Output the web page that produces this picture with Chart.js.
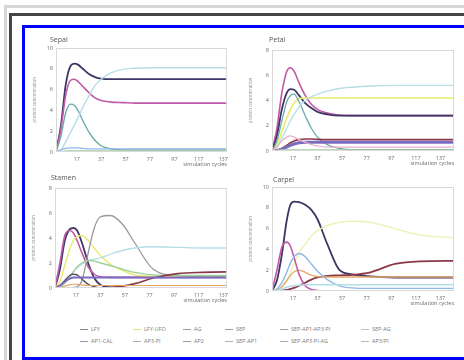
<!DOCTYPE html>
<html>
<head>
<meta charset="utf-8">
<script src="https://cdn.jsdelivr.net/npm/chart.js@4.4.1/dist/chart.umd.min.js"></script>
<style>
    body { margin: 0; width: 464px; height: 360px; background: #fff; overflow: hidden; position: relative; font-family: "Open Sans", sans-serif; }
    .frame { position: absolute; box-sizing: border-box; }
    #f1 { left: 4px; top: 5px; width: 500px; height: 400px; border: 3px solid #d6d6d6; }
    #f2 { left: 9px; top: 13px; width: 500px; height: 400px; border: 3px solid #454545; }
    #f3 { left: 22px; top: 25px; width: 480px; height: 335px; border: 3px solid #0000ff; background: #fff; }
    .panel { position: absolute; }
    .ptitle { position: absolute; font-size: 7px; color: #555; }
    #legend { position: absolute; left: 0; top: 0; }
    .li { position: absolute; font-size: 5.5px; color: #7a7a7a; white-space: nowrap; line-height: 7px; }
    .li i { display: inline-block; width: 8px; height: 0; border-top: 1px solid #999; vertical-align: middle; margin-right: 3px; }
</style>
</head>
<body>
<div class="frame" id="f1"></div>
<div class="frame" id="f2"></div>
<div class="frame" id="f3"></div>

<canvas id="sepal_chart" class="panel" width="202" height="136" style="left:30px;top:38px"></canvas>
<canvas id="petal_chart" class="panel" width="212" height="133" style="left:246px;top:40px"></canvas>
<canvas id="stamen_chart" class="panel" width="203" height="132" style="left:29px;top:178px"></canvas>
<canvas id="carpel_chart" class="panel" width="212" height="136" style="left:246px;top:177px"></canvas>

<div class="ptitle" style="left:50px;top:35px">Sepal</div>
<div class="ptitle" style="left:269px;top:35px">Petal</div>
<div class="ptitle" style="left:51px;top:173px">Stamen</div>
<div class="ptitle" style="left:273px;top:175px">Carpel</div>

<div id="legend"></div>

<script>
// simulation cycles sampled
const cycles = [0, 4, 8, 12, 15, 18, 22, 27, 32, 37, 45, 55, 65, 80, 100, 120, 150];
const xTicks = [17, 37, 57, 77, 97, 117, 137];

// Sepal
const sepalDark    = [0, 2.5, 6.5, 8.3, 8.5, 8.4, 8.0, 7.5, 7.2, 7.05, 7.0, 7.0, 7.0, 7.0, 7.0, 7.0, 7.0];
const sepalMagenta = [0, 2.2, 5.5, 6.9, 7.0, 6.8, 6.3, 5.7, 5.2, 4.95, 4.8, 4.75, 4.7, 4.7, 4.7, 4.7, 4.7];
const sepalTeal    = [0, 1.5, 3.8, 4.6, 4.5, 4.0, 3.0, 1.9, 1.1, 0.6, 0.3, 0.2, 0.2, 0.2, 0.2, 0.2, 0.2];
const sepalCyan    = [0, 0.2, 1.0, 1.9, 2.6, 3.3, 4.3, 5.4, 6.4, 7.0, 7.6, 7.95, 8.05, 8.1, 8.1, 8.1, 8.1];
const sepalBlue    = [0, 0.2, 0.35, 0.4, 0.4, 0.4, 0.35, 0.3, 0.3, 0.3, 0.3, 0.3, 0.3, 0.3, 0.3, 0.3, 0.3];
const sepalGreen   = [0, 0.05, 0.1, 0.1, 0.1, 0.1, 0.1, 0.1, 0.1, 0.1, 0.1, 0.1, 0.1, 0.1, 0.1, 0.1, 0.1];

// Petal
const petalMagenta = [0, 1.8, 4.6, 6.3, 6.6, 6.3, 5.4, 4.4, 3.7, 3.3, 3.0, 2.85, 2.8, 2.8, 2.8, 2.8, 2.8];
const petalDark    = [0, 1.2, 3.3, 4.6, 4.9, 4.85, 4.4, 3.8, 3.4, 3.1, 2.9, 2.8, 2.8, 2.8, 2.8, 2.8, 2.8];
const petalYellow  = [0, 0.5, 1.5, 2.6, 3.3, 3.8, 4.15, 4.2, 4.2, 4.2, 4.2, 4.2, 4.2, 4.2, 4.2, 4.2, 4.2];
const petalCyan    = [0, 0.3, 1.0, 1.8, 2.4, 2.9, 3.5, 4.0, 4.3, 4.5, 4.75, 4.95, 5.05, 5.15, 5.2, 5.2, 5.2];
const petalTeal    = [0, 0.8, 2.4, 3.9, 4.4, 4.5, 3.9, 2.8, 1.8, 1.1, 0.5, 0.2, 0.1, 0.1, 0.1, 0.1, 0.1];
const petalRed     = [0, 0.05, 0.2, 0.45, 0.65, 0.8, 0.9, 0.95, 0.95, 0.92, 0.9, 0.9, 0.9, 0.9, 0.9, 0.9, 0.9];
const petalPurple  = [0, 0.05, 0.15, 0.3, 0.45, 0.55, 0.65, 0.7, 0.7, 0.7, 0.7, 0.7, 0.7, 0.7, 0.7, 0.7, 0.7];
const petalPink    = [0, 0.3, 0.8, 1.1, 1.2, 1.1, 0.9, 0.7, 0.5, 0.4, 0.3, 0.3, 0.3, 0.3, 0.3, 0.3, 0.3];
const petalGreen   = [0, 0.05, 0.1, 0.1, 0.1, 0.1, 0.1, 0.1, 0.1, 0.1, 0.1, 0.1, 0.1, 0.1, 0.1, 0.1, 0.1];

// Stamen
const stamenDark    = [0, 1.5, 3.8, 4.7, 4.8, 4.6, 3.6, 2.0, 0.8, 0.25, 0.05, 0, 0, 0, 0, 0, 0];
const stamenMagenta = [0, 2.0, 4.2, 4.6, 4.4, 3.8, 2.8, 1.7, 1.1, 0.9, 0.85, 0.85, 0.85, 0.85, 0.85, 0.85, 0.85];
const stamenYellow  = [0, 0.5, 1.8, 3.1, 3.8, 4.1, 4.2, 3.8, 3.2, 2.6, 1.9, 1.4, 1.05, 0.95, 0.9, 0.9, 0.9];
const stamenGray    = [0, 0, 0, 0, 0.05, 0.1, 0.6, 2.8, 4.8, 5.7, 5.8, 5.1, 3.6, 1.5, 1.0, 0.95, 0.95];
const stamenCyan    = [0, 0.1, 0.4, 0.9, 1.3, 1.6, 1.9, 2.2, 2.3, 2.4, 2.7, 3.0, 3.2, 3.3, 3.25, 3.2, 3.2];
const stamenGreen   = [0, 0.1, 0.4, 0.9, 1.3, 1.7, 2.0, 2.2, 2.15, 2.0, 1.8, 1.5, 1.25, 1.05, 1.0, 1.0, 1.0];
const stamenRed     = [0, 0, 0, 0, 0, 0, 0, 0, 0, 0, 0.05, 0.15, 0.35, 0.8, 1.15, 1.25, 1.3];
const stamenHump    = [0, 0.2, 0.6, 1.0, 1.1, 1.05, 0.7, 0.3, 0.1, 0, 0, 0, 0, 0, 0, 0, 0];
const stamenPurple  = [0, 0.2, 0.5, 0.75, 0.85, 0.85, 0.85, 0.85, 0.85, 0.85, 0.85, 0.85, 0.85, 0.85, 0.85, 0.85, 0.85];
const stamenOrange  = [0, 0.05, 0.15, 0.25, 0.3, 0.3, 0.25, 0.2, 0.2, 0.2, 0.2, 0.2, 0.2, 0.2, 0.2, 0.2, 0.2];

// Carpel
const carpelDark    = [0, 1.0, 3.5, 6.8, 8.3, 8.6, 8.55, 8.3, 7.8, 6.9, 4.5, 2.0, 1.6, 1.4, 1.3, 1.3, 1.3];
const carpelRed     = [0, 0, 0.05, 0.1, 0.2, 0.3, 0.5, 0.8, 1.1, 1.3, 1.45, 1.5, 1.55, 1.8, 2.6, 2.85, 2.9];
const carpelYellow  = [0, 0.1, 0.4, 1.0, 1.8, 2.6, 3.7, 4.5, 5.3, 5.8, 6.3, 6.6, 6.7, 6.6, 6.0, 5.4, 5.1];
const carpelMagenta = [0, 2.0, 4.2, 4.7, 4.3, 3.2, 1.6, 0.5, 0.15, 0.05, 0, 0, 0, 0, 0, 0, 0];
const carpelBlue    = [0, 0.2, 0.8, 1.8, 2.7, 3.3, 3.6, 3.3, 2.6, 1.9, 1.1, 0.5, 0.3, 0.25, 0.25, 0.25, 0.25];
const carpelOrange  = [0, 0.1, 0.4, 1.0, 1.5, 1.85, 2.0, 1.8, 1.5, 1.4, 1.35, 1.35, 1.35, 1.35, 1.35, 1.35, 1.35];
const carpelCyan    = [0, 0.05, 0.2, 0.35, 0.45, 0.5, 0.55, 0.6, 0.6, 0.6, 0.6, 0.6, 0.6, 0.6, 0.6, 0.6, 0.6];

const legendLabels = ['LFY', 'LFY-UFO', 'AG', 'SEP', 'SEP-AP1-AP3-PI', 'SEP-AG',
                      'AP1-CAL', 'AP3-PI', 'AP2', 'SEP-AP1', 'SEP-AP3-PI-AG', 'AP3/PI'];
const legendColors = ['#8a8a8a', '#e6ea7a', '#9a9a9a', '#9a9a9a', '#a0a0a0', '#c0c0c0',
                      '#9a9a9a', '#b0b0b0', '#9a9a9a', '#b0b0b0', '#b0b0b0', '#b8b8b8'];

const colors = {
    dark: '#3e3766', magenta: '#c05aa8', teal: '#6fa9ac', cyan: '#b4dde6', blue: '#8fb8e6',
    green: '#9fcf9a', yellow: '#e8ea6a', red: '#8a3848', purple: '#7c6cc0', pink: '#eab0cc',
    gray: '#9a9a9a', orange: '#e3a868', hump: '#555060'
};

// draws the light box round the plot area
const boxPlugin = {
    id: 'box',
    afterDraw(chart) {
        const a = chart.chartArea, ctx = chart.ctx;
        ctx.save();
        ctx.strokeStyle = '#d9d9d9';
        ctx.lineWidth = 1;
        ctx.strokeRect(a.left + 0.5, a.top + 0.5, a.right - a.left - 1, a.bottom - a.top - 1);
        ctx.restore();
    }
};

function series(values, color, width) {
    return {
        data: cycles.map((c, i) => ({x: c, y: values[i]})),
        borderColor: color,
        borderWidth: width || 1.2,
        pointRadius: 0,
        cubicInterpolationMode: 'monotone',
        fill: false
    };
}

function drawChart(divId, datasets, yMax, xMax) {
    new Chart(document.getElementById(divId), {
        type: 'line',
        data: {datasets: datasets},
        options: {
            responsive: false,
            animation: false,
            devicePixelRatio: 1,
            layout: {padding: {top: 10, right: 4, left: 0, bottom: 6}},
            plugins: {legend: {display: false}, tooltip: {enabled: false}},
            scales: {
                x: {
                    type: 'linear', min: 0, max: xMax,
                    afterBuildTicks: s => { s.ticks = xTicks.map(v => ({value: v})); },
                    afterFit: s => { s.height = 16; },
                    grid: {display: false, drawTicks: false},
                    border: {display: false},
                    ticks: {font: {size: 5.5, family: 'Open Sans'}, color: '#6a6a6a', padding: 4, maxRotation: 0, autoSkip: false},
                    title: {display: true, text: 'simulation cycles', align: 'end', color: '#6a6a6a',
                            font: {size: 5.5, family: 'Open Sans'}, padding: {top: 0, bottom: 0}}
                },
                y: {
                    min: 0, max: yMax,
                    afterFit: s => { s.width = 26; },
                    grid: {display: false, drawTicks: false},
                    border: {display: false},
                    ticks: {stepSize: 2, font: {size: 5.5, family: 'Open Sans'}, color: '#6a6a6a', padding: 3},
                    title: {display: true, text: 'protein concentration', color: '#888',
                            font: {size: 4.5, family: 'Open Sans'}, padding: {top: 2, bottom: 0}}
                }
            }
        },
        plugins: [boxPlugin]
    });
}

drawChart('sepal_chart', [
    series(sepalGreen, colors.green), series(sepalBlue, colors.blue),
    series(sepalCyan, colors.cyan, 1.4), series(sepalTeal, colors.teal, 1.4),
    series(sepalMagenta, colors.magenta, 1.6), series(sepalDark, colors.dark, 1.8)
], 10, 140);

drawChart('petal_chart', [
    series(petalGreen, colors.green), series(petalPink, colors.pink),
    series(petalPurple, colors.purple, 3), series(petalRed, colors.red, 1.6),
    series(petalCyan, colors.cyan, 1.3), series(petalTeal, colors.teal, 1.3),
    series(petalYellow, colors.yellow, 1.6), series(petalDark, colors.dark, 1.8),
    series(petalMagenta, colors.magenta, 1.6)
], 8, 148);

drawChart('stamen_chart', [
    series(stamenOrange, colors.orange), series(stamenPurple, colors.purple, 2),
    series(stamenRed, colors.red, 1.6), series(stamenHump, colors.hump, 1.4),
    series(stamenGreen, colors.green, 1.3), series(stamenCyan, colors.cyan, 1.3),
    series(stamenGray, colors.gray, 1.3), series(stamenYellow, colors.yellow, 1.4),
    series(stamenMagenta, colors.magenta, 1.6), series(stamenDark, colors.dark, 1.8)
], 8, 140);

drawChart('carpel_chart', [
    series(carpelCyan, colors.cyan, 1.6), series(carpelBlue, colors.blue, 1.4),
    series(carpelMagenta, colors.magenta, 1.6), series(carpelOrange, colors.orange, 1.4),
    series(carpelYellow, '#eef0b0', 1.4), series(carpelRed, colors.red, 1.8),
    series(carpelDark, colors.dark, 1.8)
], 10, 148);

// legend, two rows of six
const legendX = [80, 133, 183, 225, 280, 361];
const legendY = [326, 338];
const legendDiv = document.getElementById('legend');
legendLabels.forEach(function (label, i) {
    const item = document.createElement('div');
    item.className = 'li';
    item.style.left = legendX[i % 6] + 'px';
    item.style.top = legendY[Math.floor(i / 6)] + 'px';
    const mark = document.createElement('i');
    mark.style.borderTopColor = legendColors[i];
    item.appendChild(mark);
    item.appendChild(document.createTextNode(label));
    legendDiv.appendChild(item);
});
</script>
</body>
</html>
